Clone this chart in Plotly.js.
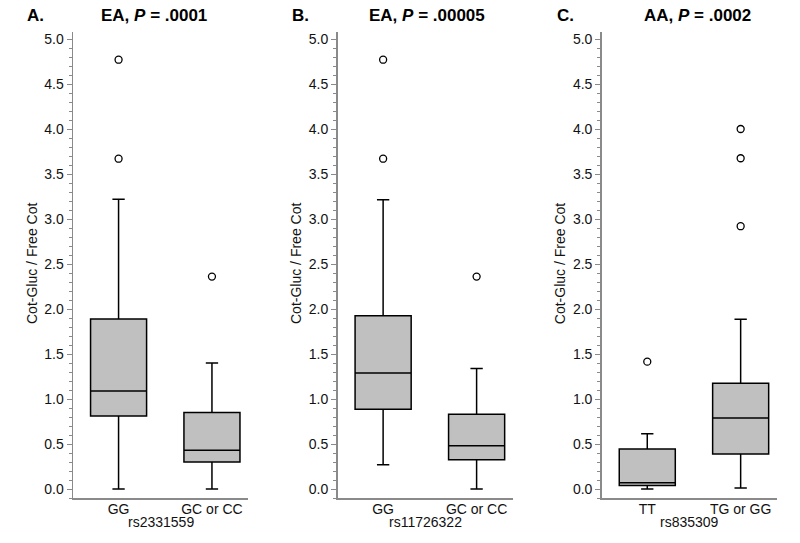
<!DOCTYPE html>
<html>
<head>
<meta charset="utf-8">
<script src="https://cdn.plot.ly/plotly-3.0.1.min.js"></script>
<style>html,body{margin:0;padding:0;background:#fff;}#chart{width:800px;height:543px;}</style>
</head>
<body>
<div id="chart"></div>
<script>
// Panel A: EA, rs2331559
const catsA = ['GG', 'GC or CC'];
const q1A = [0.81, 0.30];
const medA = [1.09, 0.43];
const q3A = [1.89, 0.85];
const loA = [0.0, 0.0];
const hiA = [3.22, 1.40];
const outXA = ['GG', 'GG', 'GC or CC'];
const outYA = [4.77, 3.67, 2.36];

// Panel B: EA, rs11726322
const catsB = ['GG', 'GC or CC'];
const q1B = [0.885, 0.325];
const medB = [1.29, 0.48];
const q3B = [1.925, 0.83];
const loB = [0.27, 0.0];
const hiB = [3.215, 1.34];
const outXB = ['GG', 'GG', 'GC or CC'];
const outYB = [4.77, 3.67, 2.36];

// Panel C: AA, rs835309
const catsC = ['TT', 'TG or GG'];
const q1C = [0.04, 0.39];
const medC = [0.07, 0.79];
const q3C = [0.445, 1.175];
const loC = [0.0, 0.01];
const hiC = [0.615, 1.885];
const outXC = ['TT', 'TG or GG', 'TG or GG', 'TG or GG'];
const outYC = [1.415, 4.0, 3.675, 2.92];

const panelTitles = ['EA, <i>P</i> = .0001', 'EA, <i>P</i> = .00005', 'AA, <i>P</i> = .0002'];
const panelLetters = ['A.', 'B.', 'C.'];
const xTitles = ['rs2331559', 'rs11726322', 'rs835309'];
const yTitle = 'Cot-Gluc / Free Cot';

const FONT = 'Liberation Sans, Arial, Helvetica, sans-serif';
const AXIS_GREY = '#8a8a8a';

function boxTrace(cats, q1, med, q3, lo, hi, xa, ya) {
  return {
    type: 'box', x: cats, q1: q1, median: med, q3: q3,
    lowerfence: lo, upperfence: hi,
    width: 0.6, whiskerwidth: 0.22,
    fillcolor: '#c0c0c0', line: {color: '#000', width: 1.5},
    boxpoints: false, xaxis: xa, yaxis: ya, showlegend: false, hoverinfo: 'y'
  };
}
function outTrace(xs, ys, xa, ya) {
  return {
    type: 'scatter', mode: 'markers', x: xs, y: ys,
    marker: {symbol: 'circle-open', size: 7, color: '#000', line: {width: 1.3, color: '#000'}},
    xaxis: xa, yaxis: ya, showlegend: false, hoverinfo: 'y'
  };
}

const data = [
  boxTrace(catsA, q1A, medA, q3A, loA, hiA, 'x', 'y'),
  outTrace(outXA, outYA, 'x', 'y'),
  boxTrace(catsB, q1B, medB, q3B, loB, hiB, 'x2', 'y2'),
  outTrace(outXB, outYB, 'x2', 'y2'),
  boxTrace(catsC, q1C, medC, q3C, loC, hiC, 'x3', 'y3'),
  outTrace(outXC, outYC, 'x3', 'y3')
];

const W = 800, TOP = 32, BOT = 498;
const H = BOT - TOP;
const axLeft = [73, 337.5, 601.7];
const axRight = [248, 512.7, 776.7];
const titleCenters = [154, 426.7, 697];
const letterLefts = [25, 290, 555];
const yTitleX = [32, 296, 560.2];
const py = y => (BOT - y) / H;

function xAxis(cats, i) {
  return {
    domain: [axLeft[i] / W, axRight[i] / W],
    type: 'category', categoryorder: 'array', categoryarray: cats,
    range: [-0.488, 1.386], fixedrange: true,
    showline: true, linecolor: AXIS_GREY, linewidth: 1.5,
    ticks: '', showgrid: false, zeroline: false,
    ticklabelstandoff: -2,
    tickfont: {family: FONT, size: 14, color: '#111'},
    anchor: i === 0 ? 'y' : 'y' + (i + 1)
  };
}
function yAxis(i) {
  return {
    domain: [0, 1], range: [-0.1, 5.078], fixedrange: true,
    tick0: 0, dtick: 0.5, tickformat: '.1f',
    ticks: 'outside', ticklen: 5, tickwidth: 1, tickcolor: AXIS_GREY,
    minor: {dtick: 0.1, ticks: 'outside', ticklen: 3, tickwidth: 1, tickcolor: AXIS_GREY, showgrid: false},
    showline: true, linecolor: AXIS_GREY, linewidth: 1.5,
    showgrid: false, zeroline: false,
    tickfont: {family: FONT, size: 14, color: '#111'},
    anchor: i === 0 ? 'x' : 'x' + (i + 1)
  };
}

const annotations = [];
for (let i = 0; i < 3; i++) {
  annotations.push({
    xref: 'paper', yref: 'paper', x: titleCenters[i] / W, y: py(16),
    xanchor: 'center', yanchor: 'middle', showarrow: false,
    text: '<b>' + panelTitles[i] + '</b>', font: {family: FONT, size: 17, color: '#000'}
  });
  annotations.push({
    xref: 'paper', yref: 'paper', x: letterLefts[i] / W, y: py(16),
    xanchor: 'left', yanchor: 'middle', showarrow: false,
    text: '<b>' + panelLetters[i] + '</b>', font: {family: FONT, size: 17, color: '#000'}
  });
  annotations.push({
    xref: 'paper', yref: 'paper', x: yTitleX[i] / W, y: py(264),
    xanchor: 'center', yanchor: 'middle', showarrow: false, textangle: -90,
    text: yTitle, font: {family: FONT, size: 14, color: '#111'}
  });
  annotations.push({
    xref: 'paper', yref: 'paper', x: (axLeft[i] + axRight[i]) / 2 / W, y: py(522),
    xanchor: 'center', yanchor: 'middle', showarrow: false,
    text: xTitles[i], font: {family: FONT, size: 14, color: '#111'}
  });
}

const layout = {
  width: 800, height: 543,
  margin: {l: 0, r: 0, t: TOP, b: 543 - BOT, pad: 0},
  paper_bgcolor: '#fff', plot_bgcolor: '#fff',
  showlegend: false,
  font: {family: FONT, size: 14, color: '#111'},
  xaxis: xAxis(catsA, 0), xaxis2: xAxis(catsB, 1), xaxis3: xAxis(catsC, 2),
  yaxis: yAxis(0), yaxis2: yAxis(1), yaxis3: yAxis(2),
  annotations: annotations
};

Plotly.newPlot('chart', data, layout, {displayModeBar: false, staticPlot: true});
</script>
</body>
</html>
